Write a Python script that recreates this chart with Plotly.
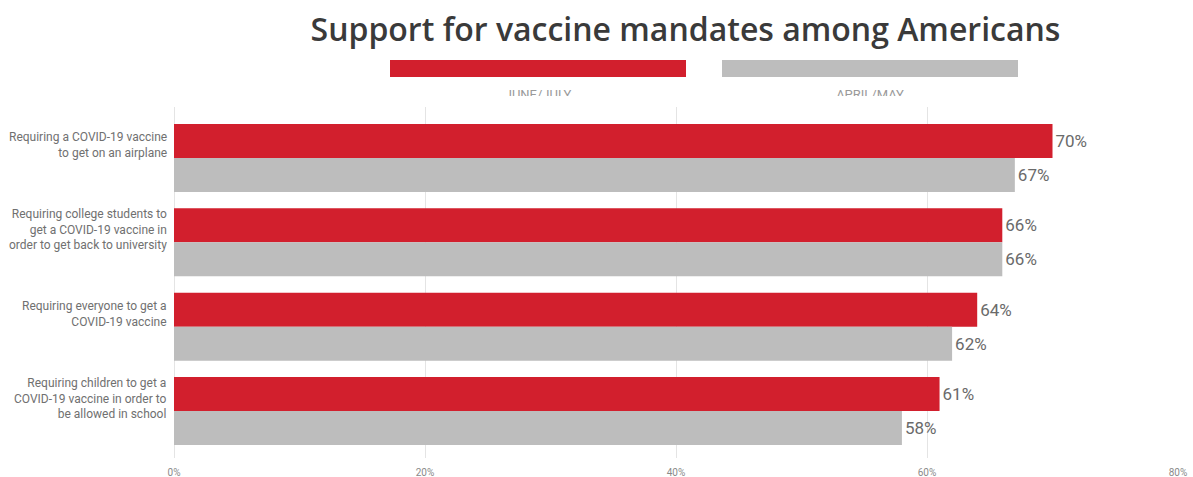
import plotly.graph_objects as go

# ---- data ----
categories = [
    "Requiring a COVID-19 vaccine<br>to get on an airplane",
    "Requiring college students to<br>get a COVID-19 vaccine in<br>order to get back to university",
    "Requiring everyone to get a<br>COVID-19 vaccine",
    "Requiring children to get a<br>COVID-19 vaccine in order to<br>be allowed in school",
]
june_july = [70, 66, 64, 61]
april_may = [67, 66, 62, 58]
series_names = ["JUNE/JULY", "APRIL/MAY"]
tick_vals = [0, 20, 40, 60, 80]
tick_text = ["0%", "20%", "40%", "60%", "80%"]
title_text = "Support for vaccine mandates among Americans"

RED = "#D21F2D"
GRAY = "#BDBDBD"

W, H = 1193, 477
ML, MR, MT, MB = 174, 15, 0, 19
paper_h = H - MT - MB
plot_top_px = 107

def py(p):  # pixel y (from top) -> paper fraction
    return (paper_h - p) / paper_h

def px(p):
    return (p - ML) / (W - ML - MR)

value_font = dict(size=17, color="#6a6a6a", family="Roboto")

fig = go.Figure()
fig.add_trace(go.Bar(
    y=categories, x=june_july, orientation="h", name=series_names[0],
    marker=dict(color=RED, line=dict(width=0)),
    texttemplate="%{x}%", textposition="outside", cliponaxis=False,
    textfont=value_font, hoverinfo="skip",
))
fig.add_trace(go.Bar(
    y=categories, x=april_may, orientation="h", name=series_names[1],
    marker=dict(color=GRAY, line=dict(width=0)),
    texttemplate="%{x}%", textposition="outside", cliponaxis=False,
    textfont=value_font, hoverinfo="skip",
))

# legend labels (clipped, as in the source image)
fig.add_trace(go.Scatter(
    x=[(px(390) + px(686)) / 2, (px(722) + px(1018)) / 2], y=[0, 0],
    mode="text", text=series_names, textposition="middle center",
    textfont=dict(size=13, color="#9a9a9a", family="Roboto"),
    xaxis="x2", yaxis="y2", cliponaxis=True, hoverinfo="skip", showlegend=False,
))

# category label annotations
annotations = []
for c in categories:
    annotations.append(dict(
        x=0, xref="paper", xanchor="right", xshift=-5,
        y=c, yref="y", yanchor="middle", yshift=13,
        text=c, showarrow=False, align="right",
        font=dict(size=12, color="#707070", family="Roboto"),
    ))

shapes = [
    dict(type="rect", xref="paper", yref="paper", x0=px(390), x1=px(686),
         y0=py(77), y1=py(60), fillcolor=RED, line=dict(width=0)),
    dict(type="rect", xref="paper", yref="paper", x0=px(722), x1=px(1018),
         y0=py(77), y1=py(60), fillcolor=GRAY, line=dict(width=0)),
]

fig.update_layout(
    width=W, height=H,
    margin=dict(l=ML, r=MR, t=MT, b=MB),
    paper_bgcolor="white", plot_bgcolor="white",
    barmode="group", bargap=0.194, bargroupgap=0,
    showlegend=False,
    title=dict(text=title_text, xref="container", yref="container",
               x=685.5 / W, xanchor="center", y=1 - 30 / H, yanchor="middle",
               font=dict(size=32, color="#3a3a3a", family="Open Sans", weight=600)),
    xaxis=dict(range=[0, 80], tickvals=tick_vals, ticktext=tick_text,
               showgrid=True, gridcolor="#e4e4e4", gridwidth=1,
               zeroline=True, zerolinecolor="#e4e4e4", zerolinewidth=1,
               showline=False, ticks="outside", ticklen=5,
               tickcolor="rgba(0,0,0,0)",
               tickfont=dict(size=10, color="#8a8a8a", family="Roboto"),
               fixedrange=True),
    yaxis=dict(domain=[0, py(plot_top_px)], range=[3.557, -0.605],
               showticklabels=False, showgrid=False, zeroline=False,
               showline=False, fixedrange=True),
    xaxis2=dict(domain=[0, 1], range=[0, 1], anchor="y2", visible=False,
                fixedrange=True),
    yaxis2=dict(domain=[py(96), py(80)], range=[0, 1], anchor="x2",
                visible=False, fixedrange=True),
    annotations=annotations,
    shapes=shapes,
)

fig.write_html("out.html")
